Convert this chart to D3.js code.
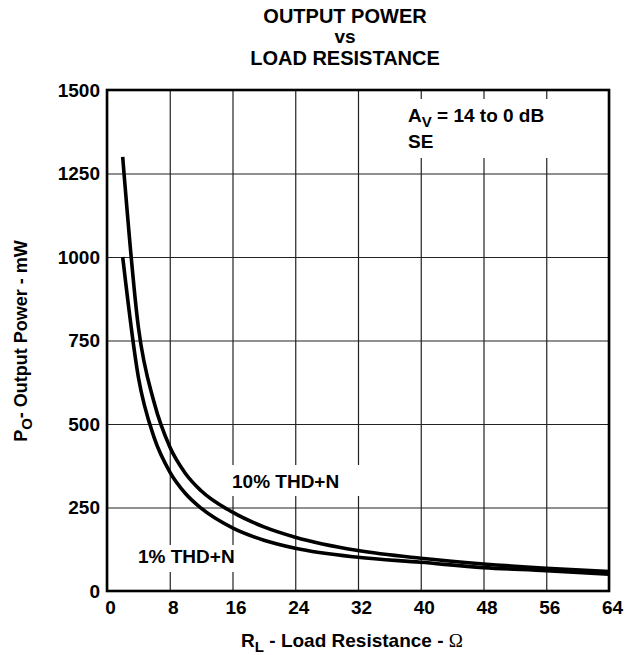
<!DOCTYPE html>
<html>
<head>
    <meta charset="utf-8">
    <title>output power vs load resistance</title>
    <script type="text/javascript" src="https://d3js.org/d3.v7.min.js"></script>
    <style>
      body { margin: 0; background: #fff; }
      text { font-family: "Liberation Sans", Arial, sans-serif; font-weight: bold; fill: #000; }
    </style>
</head>
<body>
<script type="text/javascript">

        var width = 637
        var height = 655

        // load resistance (ohm) and output power (mW)
        var loadR = [2, 4, 6, 8, 10, 12, 16, 20, 24, 32, 40, 48, 56, 64]
        var thd10 = [1300, 790, 565, 432, 352, 300, 236, 192, 161, 121, 98, 81, 68, 58]
        var thd1 = [1000, 640, 460, 357, 292, 248, 189, 152, 128, 101, 86, 70, 61, 50]

        var xTicks = [0, 8, 16, 24, 32, 40, 48, 56, 64]
        var yTicks = [0, 250, 500, 750, 1000, 1250, 1500]

        // plot box (window.top is read-only, so no "top" here)
        var plotL = 107, plotR = 609, plotT = 90, plotB = 591

        var svg = d3.select("body").append("svg").attr("width", width).attr("height", height)

        var x = d3.scaleLinear().domain([0, 64]).range([plotL, plotR])
        var y = d3.scaleLinear().domain([0, 1500]).range([plotB, plotT])

        // grid + tick labels through the axes
        var xAxis = svg.append("g")
            .attr("transform", "translate(0," + plotB + ")")
            .call(d3.axisBottom(x).tickValues(xTicks).tickSize(-(plotB - plotT)).tickPadding(9))
        var yAxis = svg.append("g")
            .attr("transform", "translate(" + plotL + ",0)")
            .call(d3.axisLeft(y).tickValues(yTicks).tickFormat(d3.format("d")).tickSize(-(plotR - plotL)).tickPadding(7))

        svg.selectAll(".domain").remove()
        svg.selectAll(".tick line").attr("stroke", "#222").attr("stroke-width", 1.2)
        svg.selectAll(".tick text")
            .style("font-family", "'Liberation Sans', Arial, sans-serif")
            .style("font-weight", "bold")
            .style("font-size", "19px")
            .attr("fill", "#000")
        xAxis.selectAll(".tick text").attr("dx", 3).attr("dy", "0.72em")

        // label boxes (white, they cut the grid)
        function labelBox(x0, y0, x1, y1) {
            svg.append("rect").attr("x", x0).attr("y", y0)
                .attr("width", x1 - x0).attr("height", y1 - y0).attr("fill", "#fff")
        }
        labelBox(404, 99, 561, 158)
        labelBox(227, 465, 363, 496)
        labelBox(134, 545, 247, 572)

        // frame
        svg.append("rect").attr("x", plotL).attr("y", plotT)
            .attr("width", plotR - plotL).attr("height", plotB - plotT)
            .attr("fill", "none").attr("stroke", "#000").attr("stroke-width", 2.6)

        var line = d3.line()
            .x(function(d, i) { return x(loadR[i]) })
            .y(function(d) { return y(d) })
            .curve(d3.curveMonotoneX)

        svg.append("path").datum(thd10).attr("d", line)
            .attr("fill", "none").attr("stroke", "#000").attr("stroke-width", 3.6).attr("stroke-linejoin", "round")
        svg.append("path").datum(thd1).attr("d", line)
            .attr("fill", "none").attr("stroke", "#000").attr("stroke-width", 3.6).attr("stroke-linejoin", "round")

        // curve labels
        svg.append("text").attr("x", 232).attr("y", 488).style("font-size", "19px").text("10% THD+N")
        svg.append("text").attr("x", 138).attr("y", 563).style("font-size", "19px").text("1% THD+N")

        var av = svg.append("text").attr("x", 408).attr("y", 122).style("font-size", "19px")
        av.append("tspan").text("A")
        av.append("tspan").attr("dy", 5).style("font-size", "15px").text("V")
        av.append("tspan").attr("dy", -5).text(" = 14 to 0 dB")
        svg.append("text").attr("x", 408).attr("y", 148).style("font-size", "19px").text("SE")

        // title
        var titles = [["OUTPUT POWER", 23, 20], ["vs", 43, 19], ["LOAD RESISTANCE", 65, 20]]
        svg.selectAll(".title").data(titles).enter().append("text")
            .attr("class", "title")
            .attr("x", 345).attr("y", function(d) { return d[1] })
            .attr("text-anchor", "middle")
            .style("font-size", function(d) { return d[2] + "px" })
            .text(function(d) { return d[0] })

        // axis titles
        var xt = svg.append("text").attr("x", 352).attr("y", 647)
            .attr("text-anchor", "middle").style("font-size", "19px")
        xt.append("tspan").text("R")
        xt.append("tspan").attr("dy", 5).style("font-size", "15px").text("L")
        xt.append("tspan").attr("dy", -5).text(" - Load Resistance - ")
        xt.append("tspan").style("font-family", "'Liberation Serif', serif").style("font-weight", "normal").text("Ω")

        var yt = svg.append("text").attr("transform", "translate(27,341) rotate(-90)")
            .attr("text-anchor", "middle").style("font-size", "18px")
        yt.append("tspan").text("P")
        yt.append("tspan").attr("dy", 5).style("font-size", "15px").text("O")
        yt.append("tspan").attr("dy", -5).text("- Output Power - mW")

</script>
</body>
</html>
